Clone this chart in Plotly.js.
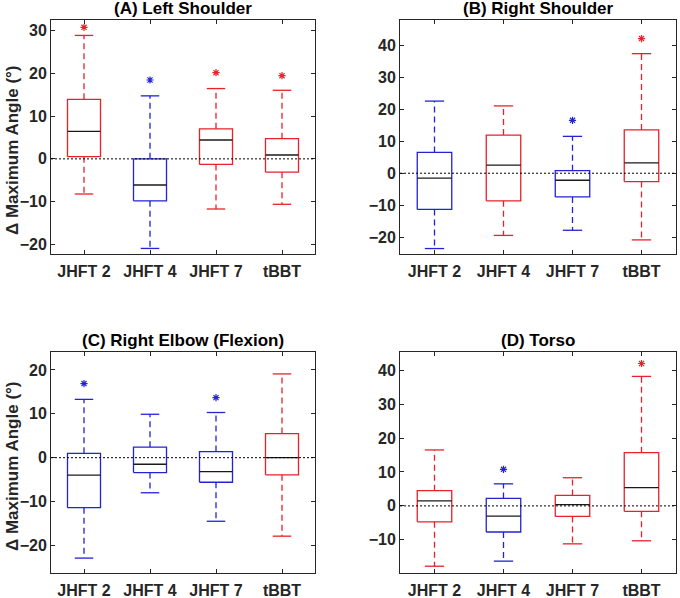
<!DOCTYPE html>
<html>
<head>
<meta charset="utf-8">
<script src="https://cdn.plot.ly/plotly-3.0.1.min.js"></script>
<style>html,body{margin:0;padding:0;background:#fff;}#chart{width:680px;height:598px;}</style>
</head>
<body>
<div id="chart"></div>
<script>
// ---------- DATA ----------
const categories = ['JHFT 2', 'JHFT 4', 'JHFT 7', 'tBBT'];
const panelTitles = ['(A) Left Shoulder', '(B) Right Shoulder', '(C) Right Elbow (Flexion)', '(D) Torso'];
const yLabel = '\u0394 Maximum Angle (\u00B0)';

// Panel A - Left Shoulder
const A_lower  = [-8.2, -20.9, -11.7, -10.6];
const A_q1     = [0.5, -9.8, -1.3, -3.1];
const A_median = [6.4, -6.1, 4.4, 0.9];
const A_q3     = [13.9, 0.0, 7.0, 4.7];
const A_upper  = [28.8, 14.7, 16.4, 16.0];
const A_star   = [30.7, 18.4, 20.1, 19.4];
const A_group  = ['r', 'b', 'r', 'r'];

// Panel B - Right Shoulder
const B_lower  = [-23.5, -19.4, -17.8, -20.8];
const B_q1     = [-11.3, -8.6, -7.4, -2.6];
const B_median = [-1.5, 2.5, -2.2, 3.2];
const B_q3     = [6.5, 11.9, 0.8, 13.5];
const B_upper  = [22.5, 21.0, 11.5, 37.3];
const B_star   = [null, null, 16.5, 42.0];
const B_group  = ['b', 'r', 'b', 'r'];

// Panel C - Right Elbow (Flexion)
const C_lower  = [-22.9, -8.0, -14.5, -17.9];
const C_q1     = [-11.4, -3.4, -5.6, -3.9];
const C_median = [-4.0, -1.5, -3.2, 0.0];
const C_q3     = [1.0, 2.4, 1.4, 5.5];
const C_upper  = [13.3, 9.9, 10.3, 19.1];
const C_star   = [16.9, null, 13.7, null];
const C_group  = ['b', 'b', 'b', 'r'];

// Panel D - Torso
const D_lower  = [-17.8, -16.3, -11.2, -10.3];
const D_q1     = [-4.7, -7.7, -3.1, -1.6];
const D_median = [1.5, -3.0, 0.4, 5.4];
const D_q3     = [4.5, 2.2, 3.1, 15.7];
const D_upper  = [16.5, 6.5, 8.3, 38.2];
const D_star   = [null, 10.8, null, 42.0];
const D_group  = ['r', 'b', 'r', 'r'];

const yTicks = [
  [-20, -10, 0, 10, 20, 30],
  [-20, -10, 0, 10, 20, 30, 40],
  [-20, -10, 0, 10, 20],
  [-10, 0, 10, 20, 30, 40]
];
const yRanges = [[-22.2, 32.4], [-25.2, 47.8], [-26.3, 24.1], [-19.8, 45.4]];

// ---------- STYLE / LAYOUT ----------
const W = 680, H = 598;
const colorMap = {r: '#e8212b', b: '#2323d6'};
const FONT = 'Liberation Sans, Arial, sans-serif';
const panels = [
  {lower: A_lower, q1: A_q1, med: A_median, q3: A_q3, upper: A_upper, star: A_star, group: A_group},
  {lower: B_lower, q1: B_q1, med: B_median, q3: B_q3, upper: B_upper, star: B_star, group: B_group},
  {lower: C_lower, q1: C_q1, med: C_median, q3: C_q3, upper: C_upper, star: C_star, group: C_group},
  {lower: D_lower, q1: D_q1, med: D_median, q3: D_q3, upper: D_upper, star: D_star, group: D_group}
];
// pixel boxes [left, right, top, bottom]
const boxesPx = [[51, 315, 20, 254], [400, 676, 20, 254], [51, 315, 352, 573], [400, 676, 352, 573]];

const halfBox = 0.25, halfCap = 0.14;
const traces = [];
const layout = {
  width: W, height: H, margin: {l: 0, r: 0, t: 0, b: 0},
  paper_bgcolor: '#fff', plot_bgcolor: '#fff', showlegend: false,
  annotations: [], shapes: []
};

panels.forEach((p, k) => {
  const ax = k === 0 ? '' : String(k + 1);
  const xa = 'x' + ax, ya = 'y' + ax;
  const bp = boxesPx[k];
  const xdom = [bp[0] / W, bp[1] / W];
  const ydom = [1 - bp[3] / H, 1 - bp[2] / H];
  const common = {
    showline: true, mirror: 'ticks', linecolor: '#262626', linewidth: 1,
    ticks: 'inside', ticklen: 4, tickcolor: '#262626', tickwidth: 1,
    tickfont: {family: FONT, size: 16, color: '#262626', weight: 'bold'},
    showgrid: false, zeroline: false, fixedrange: true
  };
  layout['xaxis' + ax] = Object.assign({}, common, {
    domain: xdom, anchor: ya, range: [0.5, 4.5], ticklabelstandoff: 3,
    tickvals: [1, 2, 3, 4], ticktext: categories
  });
  layout['yaxis' + ax] = Object.assign({}, common, {
    domain: ydom, anchor: xa, range: yRanges[k], tickvals: yTicks[k]
  });
  // zero reference line
  layout.shapes.push({type: 'line', xref: xa + ' domain', yref: ya, x0: 0, x1: 1, y0: 0, y1: 0,
    line: {color: '#000', width: 1, dash: '2px,2px'}});
  // panel title
  layout.annotations.push({text: panelTitles[k], xref: 'paper', yref: 'paper',
    x: (xdom[0] + xdom[1]) / 2, y: ydom[1], yanchor: 'bottom', xanchor: 'center', yshift: 0,
    showarrow: false, font: {family: FONT, size: 17, color: '#000', weight: 'bold'}});

  categories.forEach((c, i) => {
    const x = i + 1;
    const col = colorMap[p.group[i]];
    // dashed whiskers
    traces.push({type: 'scatter', mode: 'lines', xaxis: xa, yaxis: ya, hoverinfo: 'skip',
      x: [x, x, null, x, x], y: [p.q3[i], p.upper[i], null, p.q1[i], p.lower[i]],
      line: {color: col, width: 1.3, dash: '6px,4px'}});
    // caps
    traces.push({type: 'scatter', mode: 'lines', xaxis: xa, yaxis: ya, hoverinfo: 'skip',
      x: [x - halfCap, x + halfCap, null, x - halfCap, x + halfCap],
      y: [p.upper[i], p.upper[i], null, p.lower[i], p.lower[i]],
      line: {color: col, width: 1.3}});
    // box
    traces.push({type: 'scatter', mode: 'lines', xaxis: xa, yaxis: ya, hoverinfo: 'skip',
      x: [x - halfBox, x + halfBox, x + halfBox, x - halfBox, x - halfBox],
      y: [p.q1[i], p.q1[i], p.q3[i], p.q3[i], p.q1[i]],
      line: {color: col, width: 1.3}});
    // median
    traces.push({type: 'scatter', mode: 'lines', xaxis: xa, yaxis: ya, hoverinfo: 'skip',
      x: [x - halfBox, x + halfBox], y: [p.med[i], p.med[i]],
      line: {color: '#1a1a1a', width: 1.3}});
    // significance star
    if (p.star[i] !== null) {
      traces.push({type: 'scatter', mode: 'markers', xaxis: xa, yaxis: ya, hoverinfo: 'skip',
        x: [x], y: [p.star[i]],
        marker: {symbol: 'asterisk-open', size: 6, color: col, line: {color: col, width: 1.2}}});
    }
  });
});

// y-axis titles (panels A and C)
[[12, 150], [12, 466]].forEach((pos) => {
  layout.annotations.push({text: yLabel, xref: 'paper', yref: 'paper',
    x: pos[0] / W, y: 1 - pos[1] / H, xanchor: 'center', yanchor: 'middle', textangle: -90,
    showarrow: false, font: {family: FONT, size: 17, color: '#262626', weight: 'bold'}});
});

Plotly.newPlot('chart', traces, layout, {displayModeBar: false, staticPlot: true});
</script>
</body>
</html>
